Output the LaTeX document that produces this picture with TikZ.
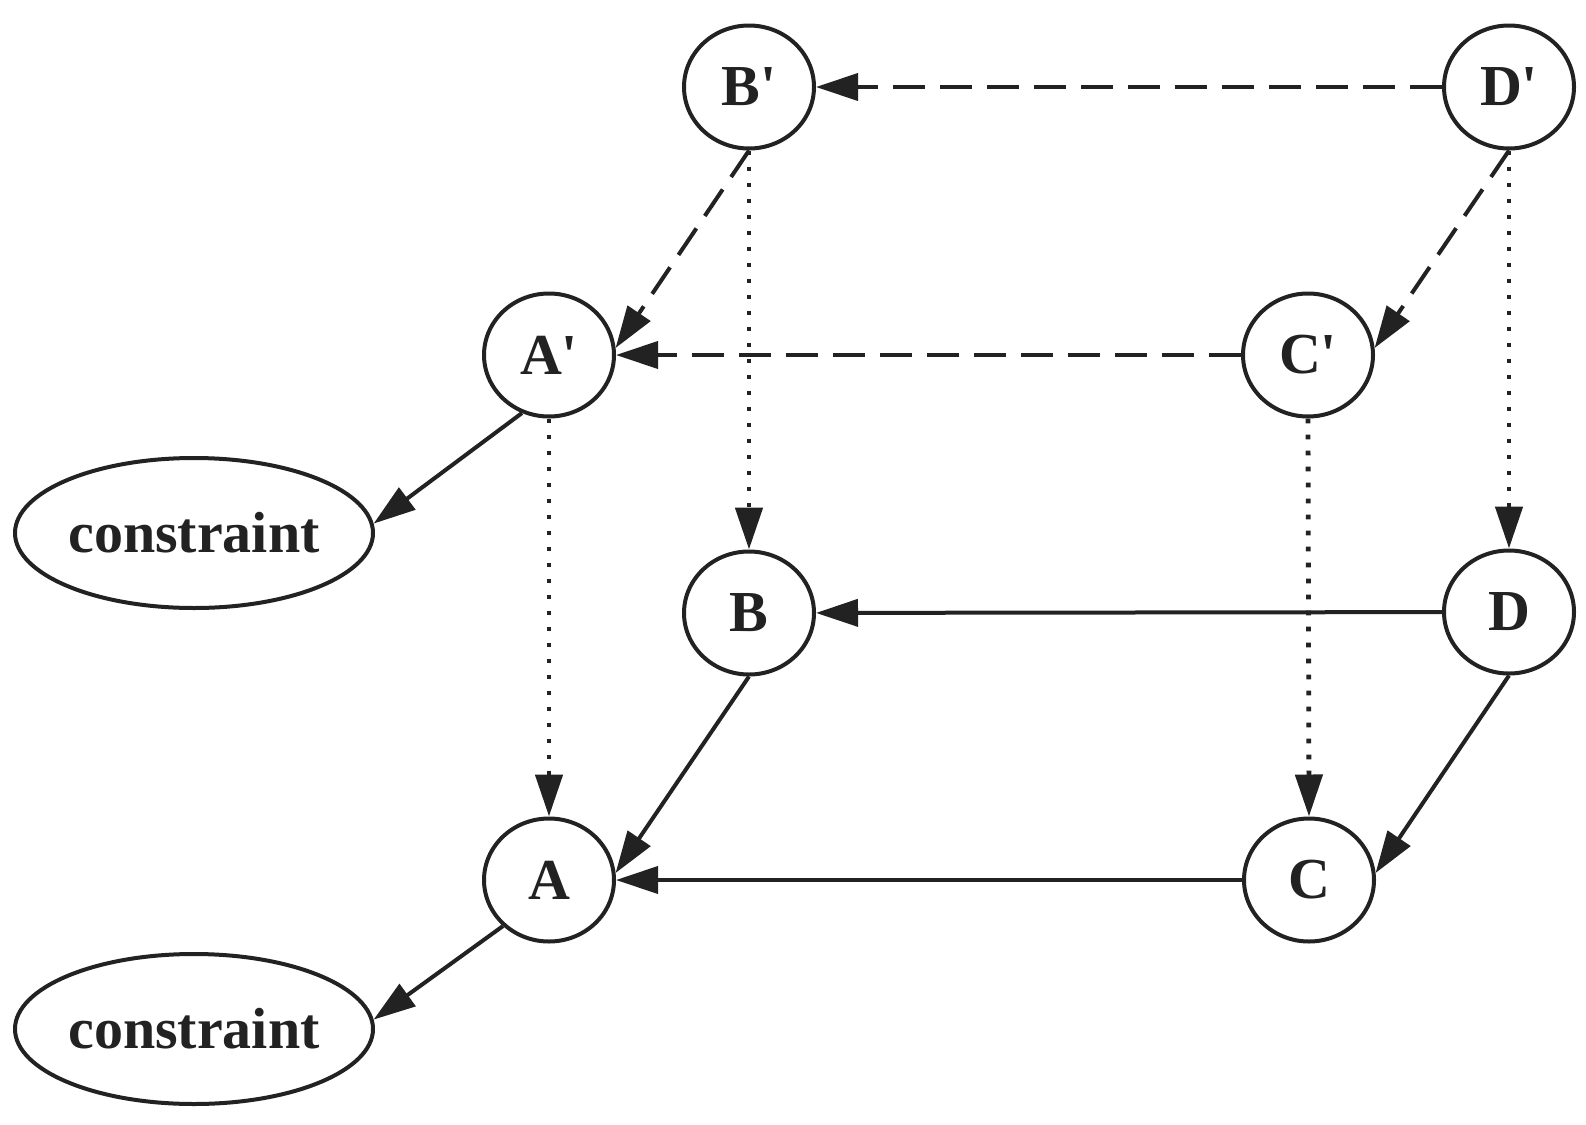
\documentclass[tikz,border=0pt]{standalone}
\usepackage{fontspec}
\newfontfamily\labfont{Liberation Serif}
\usetikzlibrary{arrows.meta,shapes.geometric}
\definecolor{ink}{HTML}{222222}
\begin{document}
\begin{tikzpicture}[x=0.5pt,y=-0.5pt,
  every node/.style={font=\labfont\bfseries\fontsize{29}{34}\selectfont, text=ink},
  vnode/.style={draw=ink, line width=2pt, ellipse, inner sep=0pt, minimum width=65pt, minimum height=61.5pt},
  cnode/.style={draw=ink, line width=2pt, ellipse, inner sep=0pt, minimum width=179pt, minimum height=75pt},
  arr/.style={draw=ink, line width=2pt, -{Triangle[length=21pt,width=13.5pt]}},
  solidarr/.style={arr},
  dasharr/.style={arr, dash pattern=on 16pt off 7.5pt},
  dotarr/.style={arr, line width=2.4pt, dash pattern=on 2.4pt off 5.6pt}]
\useasboundingbox (0,0) rectangle (1586,1125);
\node[vnode] (Bp) at (749,87) {B'};
\node[vnode] (Dp) at (1509,87) {D'};
\node[vnode] (Ap) at (549,355) {A'};
\node[vnode] (Cp) at (1308,355) {C'};
\node[vnode] (B) at (749,613) {B};
\node[vnode] (D) at (1509,612) {D};
\node[vnode] (A) at (549,880) {A};
\node[vnode] (C) at (1309,880) {C};
\node[cnode] (c1) at (194,533) {constraint};
\node[cnode] (c2) at (194,1029) {constraint};
% dashed (primed layer)
\draw[dasharr] (Dp) -- (Bp);
\draw[dasharr] (Bp.south) -- (Ap.6);
\draw[dasharr] (Dp.south) -- (Cp.6);
\draw[dasharr] (Cp) -- (Ap);
% dotted (vertical)
\draw[dotarr] (Bp.south) -- (B.north);
\draw[dotarr] (Dp.south) -- (D.north);
\draw[dotarr] (Ap.south) -- (A.north);
\draw[dotarr] (Cp.south) -- (C.north);
% solid (base layer)
\draw[solidarr] (D) -- (B);
\draw[solidarr] (B.south) -- (A.6);
\draw[solidarr] (D.south) -- (C.6);
\draw[solidarr] (C) -- (A);
% constraints
\draw[solidarr] (Ap.-115) -- (c1.3);
\draw[solidarr] (A.-135) -- (c2.3);
\end{tikzpicture}
\end{document}
